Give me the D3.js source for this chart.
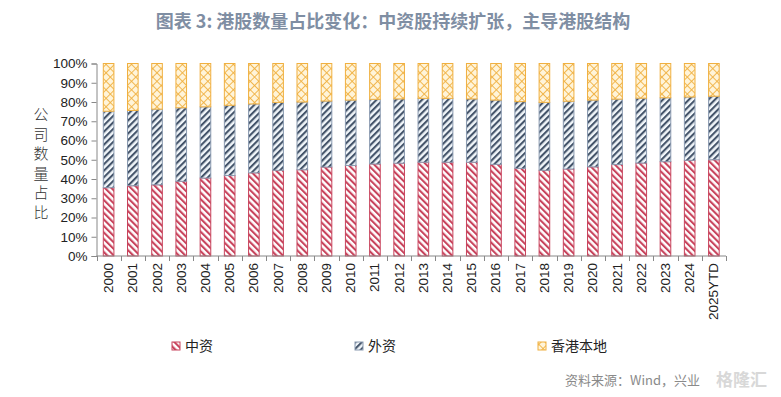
<!DOCTYPE html>
<html><head><meta charset="utf-8">
<script src="https://cdn.jsdelivr.net/npm/d3@7/dist/d3.min.js"></script>
<style>body{margin:0;background:#fff;}svg{display:block;}</style>
</head><body>
<svg id="c" width="781" height="397"></svg>
<script>
const categories = ["2000","2001","2002","2003","2004","2005","2006","2007","2008","2009","2010","2011","2012","2013","2014","2015","2016","2017","2018","2019","2020","2021","2022","2023","2024","2025YTD"];
const chinese = [35.5,36.5,37.0,38.8,40.5,41.8,43.2,44.5,44.8,46.2,47.0,47.8,48.2,48.7,48.7,48.7,47.6,45.5,44.5,45.2,46.3,47.5,48.3,49.0,49.7,50.0];
const foreign = [39.7,39.1,39.3,38.2,37.0,36.5,35.8,35.3,35.2,34.3,34.0,33.6,33.4,33.2,33.2,32.9,33.4,34.7,35.3,35.2,34.7,34.0,33.7,33.2,32.9,33.0];
const local = [24.8,24.4,23.7,23.0,22.5,21.7,21.0,20.2,20.0,19.5,19.0,18.6,18.4,18.1,18.1,18.4,19.0,19.8,20.2,19.6,19.0,18.5,18.0,17.8,17.4,17.0];
const seriesNames = ["中资","外资","香港本地"];
const yTicks = [0,10,20,30,40,50,60,70,80,90,100];

const svg = d3.select("#c");
const defs = svg.append("defs");
// red stripes "\"
const pr = defs.append("pattern").attr("id","pRed").attr("patternUnits","userSpaceOnUse")
  .attr("width",4.6).attr("height",4.6).attr("patternTransform","rotate(-45)");
pr.append("rect").attr("width",4.6).attr("height",4.6).attr("fill","#fff");
pr.append("rect").attr("width",2.1).attr("height",4.6).attr("fill","#c8435c");
// blue stripes "/"
const pb = defs.append("pattern").attr("id","pBlue").attr("patternUnits","userSpaceOnUse")
  .attr("width",4.6).attr("height",4.6).attr("patternTransform","rotate(45)");
pb.append("rect").attr("width",4.6).attr("height",4.6).attr("fill","#f1f6fa");
pb.append("rect").attr("width",2.1).attr("height",4.6).attr("fill","#44546a");
// yellow crosshatch
const py = defs.append("pattern").attr("id","pYel").attr("patternUnits","userSpaceOnUse")
  .attr("width",6).attr("height",6).attr("patternTransform","rotate(45)");
py.append("rect").attr("width",6).attr("height",6).attr("fill","#fff4d9");
py.append("rect").attr("width",0.9).attr("height",6).attr("fill","#f0b040");
py.append("rect").attr("width",6).attr("height",0.9).attr("fill","#f0b040");

const fills = ["url(#pRed)","url(#pBlue)","url(#pYel)"];
const strokes = ["#c8435c","#8a9ab0","#f0b040"];

const x = d3.scaleBand().domain(categories).range([96.5,726]).paddingInner(0.52).paddingOuter(0.26);
const y = d3.scaleLinear().domain([0,100]).range([256,63.5]);

// title
svg.append("text").attr("x",393).attr("y",28).attr("text-anchor","middle")
  .attr("font-family","'Noto Sans CJK SC'").attr("font-weight","bold").attr("font-size",18)
  .attr("fill","#7f8ea3").text("图表 3: 港股数量占比变化：中资股持续扩张，主导港股结构");

const data = categories.map((c,i)=>({cat:c, s0:chinese[i], s1:foreign[i], s2:local[i]}));
const stack = d3.stack().keys(["s0","s1","s2"])(data);

stack.forEach((layer,k)=>{
  svg.append("g").selectAll("rect").data(layer).join("rect")
    .attr("x",d=>x(d.data.cat)+0.5).attr("width",x.bandwidth()-1)
    .attr("y",d=>y(Math.min(d[1],100))).attr("height",d=>y(d[0])-y(Math.min(d[1],100)))
    .attr("fill",fills[k]).attr("stroke",strokes[k]).attr("stroke-width",1);
});

// y axis
const yAxis = d3.axisLeft(y).tickValues(yTicks).tickFormat(d=>d+"%").tickSize(5).tickPadding(4);
const gy = svg.append("g").attr("transform","translate(96.5,0)").call(yAxis);
gy.select(".domain").attr("stroke","#888");
gy.selectAll(".tick line").attr("stroke","#888");
gy.selectAll("text").attr("font-family","'Liberation Sans', Arial").attr("font-size",13.5).attr("fill","#222");

// x axis with ticks at category boundaries
const gx = svg.append("g").attr("transform","translate(0,256)");
gx.append("line").attr("x1",96.5).attr("x2",726).attr("y1",0).attr("y2",0).attr("stroke","#888");
gx.selectAll("line.t").data(categories.concat(["end"])).join("line").attr("class","t")
  .attr("x1",(d,i)=>Math.round(96.5 + i*x.step())+0.5).attr("x2",(d,i)=>Math.round(96.5 + i*x.step())+0.5)
  .attr("y1",0).attr("y2",5).attr("stroke","#888");
gx.selectAll("text").data(categories).join("text")
  .attr("transform",d=>`translate(${x(d)+x.bandwidth()/2+4.5},7) rotate(-90)`)
  .attr("text-anchor","end").attr("font-family","'Liberation Sans', Arial").attr("font-size",13.5).attr("fill","#222")
  .text(d=>d);

// y title vertical stacked
const yt = "公司数量占比".split("");
svg.append("g").selectAll("text").data(yt).join("text")
  .attr("x",41).attr("y",(d,i)=>120 + i*19.5).attr("text-anchor","middle")
  .attr("font-family","'Noto Sans CJK SC'").attr("font-weight","300").attr("font-size",15).attr("fill","#333").text(d=>d);

// legend
const legX = [172,355,538];
const lg = svg.append("g");
seriesNames.forEach((n,k)=>{
  lg.append("rect").attr("x",legX[k]).attr("y",342).attr("width",8).attr("height",8)
    .attr("fill",fills[k]).attr("stroke",strokes[k]).attr("stroke-width",1);
  lg.append("text").attr("x",legX[k]+13).attr("y",351).attr("font-family","'Noto Sans CJK SC'")
    .attr("font-size",14).attr("fill","#222").text(n);
});

// source + watermark
svg.append("text").attr("x",565).attr("y",385).attr("font-family","'Noto Sans CJK SC'")
  .attr("font-size",13).attr("fill","#8a8a8a").text("资料来源：Wind，兴业");
svg.append("text").attr("x",716).attr("y",386).attr("font-family","'Noto Sans CJK SC'").attr("font-weight","bold")
  .attr("font-size",17).attr("fill","#cfcfcf").attr("opacity",0.8).text("格隆汇");
</script>
</body></html>
